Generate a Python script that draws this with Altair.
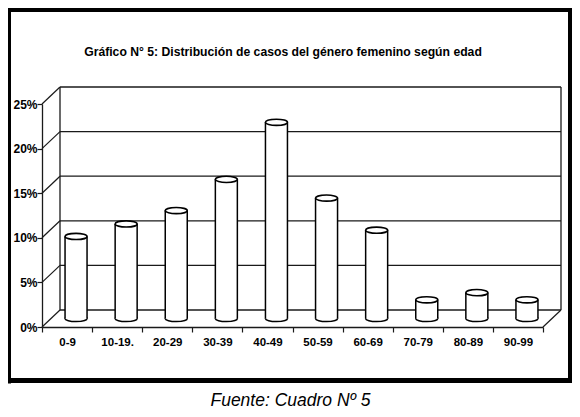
import altair as alt
import pandas as pd

# ---- data ----
categories = ["0-9", "10-19.", "20-29", "30-39", "40-49", "50-59", "60-69", "70-79", "80-89", "90-99"]
values = [9.2, 10.6, 12.1, 15.6, 22.0, 13.5, 9.9, 2.1, 2.9, 2.1]
y_ticks = [0, 5, 10, 15, 20, 25]
title_text = "Gráfico N° 5: Distribución de casos del género femenino según edad"
footer_text = "Fuente: Cuadro Nº 5"

# ---- layout / style constants ----
W, H = 501, 223          # front plot box
DX, DY = 18, -17         # depth of the 3D box
MX, MY = 9, -8.5         # bars sit halfway in depth
BW = 22                  # cylinder width
SANS = "Liberation Sans, Arial, Helvetica, sans-serif"
LINE = "#1a1a1a"

xs = alt.Scale(domain=categories, paddingInner=0, paddingOuter=0)
ys = alt.Scale(domain=[0, 25], nice=False, zero=True)

bar_df = pd.DataFrame({"cat": categories, "val": values, "zero": [0] * len(values)})
grid_df = pd.DataFrame({"v": y_ticks})
range_df = pd.DataFrame({"lo": [y_ticks[0]], "hi": [y_ticks[-1]]})
title_df = pd.DataFrame({"t": [title_text]})
footer_df = pd.DataFrame({"t": [footer_text]})

k = 0.28
c = 0.552 * k
ELL = (f"M -1 0 C -1 {-c} -0.552 {-k} 0 {-k} C 0.552 {-k} 1 {-c} 1 0 "
       f"C 1 {c} 0.552 {k} 0 {k} C -0.552 {k} -1 {c} -1 0 Z")


def Y(field):
    return alt.Y(field, scale=ys, title=None)


def X():
    return alt.X("cat:N", scale=xs, sort=categories, title=None)


def border(sw, **enc):
    return alt.Chart(title_df).mark_rule(stroke="black", strokeWidth=sw, strokeCap="square").encode(**enc)


frame_left = border(3, x=alt.value(-32.5), y=alt.value(-96), y2=alt.value(278))
frame_top = border(4, y=alt.value(-94), x=alt.value(-33), x2=alt.value(528))
frame_right = border(4, x=alt.value(528), y=alt.value(-94), y2=alt.value(277))
frame_bottom = border(5, y=alt.value(276.5), x=alt.value(-32.5), x2=alt.value(528))

back_grid = alt.Chart(grid_df).mark_rule(stroke=LINE, strokeWidth=1.3, yOffset=DY).encode(
    y=alt.Y(
        "v:Q", scale=ys, title=None,
        axis=alt.Axis(values=y_ticks, labelExpr="datum.value + '%'", labelFont=SANS,
                      labelFontWeight="bold", labelFontSize=12, labelColor="black", tickSize=5,
                      tickColor=LINE, tickWidth=1.2, domainColor=LINE, domainWidth=1.3,
                      labelPadding=0, grid=False),
    ),
    x=alt.value(DX), x2=alt.value(W + DX),
)

diag = alt.Chart(grid_df).mark_rule(stroke=LINE, strokeWidth=1.2, y2Offset=DY).encode(
    x=alt.value(0), x2=alt.value(DX), y=Y("v:Q"), y2=alt.Y2("v")
)

left_back = alt.Chart(range_df).mark_rule(stroke=LINE, strokeWidth=1.3, yOffset=DY, y2Offset=DY).encode(
    x=alt.value(DX), y=Y("lo:Q"), y2=alt.Y2("hi")
)
right_back = alt.Chart(range_df).mark_rule(stroke=LINE, strokeWidth=1.3, yOffset=DY, y2Offset=DY).encode(
    x=alt.value(W + DX), y=Y("lo:Q"), y2=alt.Y2("hi")
)
right_floor = alt.Chart(range_df).mark_rule(stroke=LINE, strokeWidth=1.2, y2Offset=DY).encode(
    x=alt.value(W), x2=alt.value(W + DX), y=Y("lo:Q"), y2=alt.Y2("lo")
)

x_axis = alt.X(
    "cat:N", scale=xs, sort=categories, title=None,
    axis=alt.Axis(labelAngle=0, labelFont=SANS, labelFontWeight="bold", labelFontSize=11.5,
                  labelColor="black", tickBand="extent", tickSize=5, tickColor=LINE, tickWidth=1.2,
                  domainColor=LINE, domainWidth=1.3, labelPadding=4, grid=False),
)

bottom_ell = alt.Chart(bar_df).mark_point(
    shape=ELL, size=BW * BW, filled=True, fill="white", stroke="black", strokeWidth=1.5,
    opacity=1, fillOpacity=1, strokeOpacity=1, xOffset=MX, yOffset=MY
).encode(x=x_axis, y=Y("zero:Q"))

body = alt.Chart(bar_df).mark_rule(
    strokeWidth=BW, color="white", strokeCap="butt", xOffset=MX, yOffset=MY, y2Offset=MY
).encode(x=X(), y=Y("val:Q"), y2=alt.Y2("zero"))

side_l = alt.Chart(bar_df).mark_rule(
    strokeWidth=1.5, color="black", xOffset=MX - BW / 2, yOffset=MY, y2Offset=MY
).encode(x=X(), y=Y("val:Q"), y2=alt.Y2("zero"))

side_r = alt.Chart(bar_df).mark_rule(
    strokeWidth=1.5, color="black", xOffset=MX + BW / 2, yOffset=MY, y2Offset=MY
).encode(x=X(), y=Y("val:Q"), y2=alt.Y2("zero"))

top_ell = alt.Chart(bar_df).mark_point(
    shape=ELL, size=BW * BW, filled=True, fill="white", stroke="black", strokeWidth=1.6,
    opacity=1, fillOpacity=1, strokeOpacity=1, xOffset=MX, yOffset=MY
).encode(x=X(), y=Y("val:Q"))

title = alt.Chart(title_df).mark_text(
    font=SANS, fontSize=12.2, fontWeight="bold", align="center", baseline="alphabetic", color="black"
).encode(x=alt.value(241), y=alt.value(-48.5), text="t:N")

footer = alt.Chart(footer_df).mark_text(
    font=SANS, fontSize=17.5, fontStyle="italic",
    align="center", baseline="alphabetic", color="black"
).encode(x=alt.value(248.5), y=alt.value(302), text="t:N")

chart = alt.layer(
    frame_left, frame_top, frame_right, frame_bottom,
    back_grid, diag, left_back, right_back, right_floor,
    bottom_ell, body, side_l, side_r, top_ell, title, footer
).properties(
    width=W, height=H,
    padding={"left": 34, "top": 96, "right": 29, "bottom": 82},
    autosize=alt.AutoSizeParams(type="none"),
    background="white",
).configure_view(stroke=None)

chart.save("out.html", embed_options={"renderer": "svg", "actions": False})
